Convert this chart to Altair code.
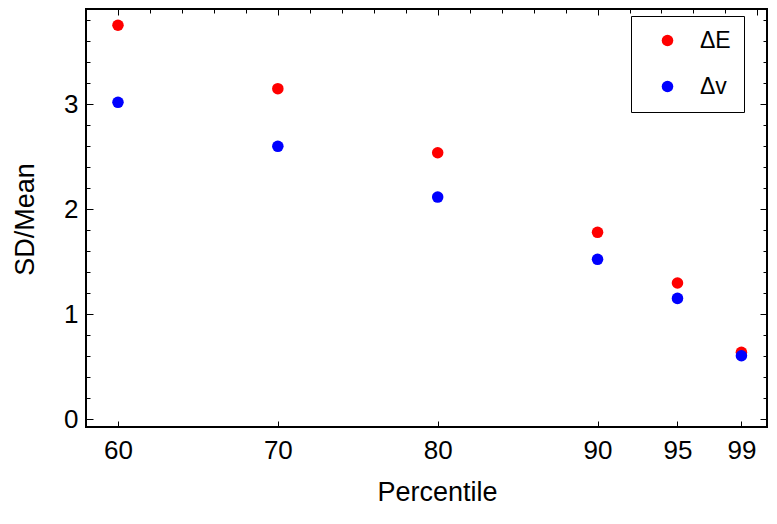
import altair as alt
import pandas as pd

# ---- data ----
percentile = [60, 70, 80, 90, 95, 99]
delta_E = [3.75, 3.146, 2.536, 1.778, 1.295, 0.635]
delta_v = [3.016, 2.597, 2.114, 1.521, 1.149, 0.603]
series_names = ["ΔE", "Δv"]
series_colors = ["#ff0000", "#0000ff"]

x_ticks = [60, 70, 80, 90, 95, 99]
x_top_major = [60, 70, 80, 90, 100]
x_top_minor = [58, 60, 62, 64, 66, 68, 70, 72, 74, 76, 78, 80, 82, 84, 86, 88,
               90, 92, 94, 96, 98, 100]
y_ticks = [0, 1, 2, 3]
y_minor = [0.0, 0.2, 0.4, 0.6, 0.8, 1.0, 1.2, 1.4, 1.6, 1.8, 2.0, 2.2, 2.4,
           2.6, 2.8, 3.0, 3.2, 3.4, 3.6, 3.8]

rows = []
for name, vals in zip(series_names, [delta_E, delta_v]):
    for p, v in zip(percentile, vals):
        rows.append({"Percentile": p, "value": v, "series": name})
df = pd.DataFrame(rows)

X_DOM = [58, 100.6]
Y_DOM = [-0.076, 3.905]
W, H = 681, 418
FONT = "Liberation Sans"

xs = alt.Scale(domain=X_DOM, nice=False, zero=False)
ys = alt.Scale(domain=Y_DOM, nice=False, zero=False)


def tick_axis(orient, values, size):
    return alt.Axis(orient=orient, values=values, offset=-size, tickSize=size,
                    labels=False, domain=False, grid=False, title=None,
                    tickColor="black", tickWidth=1)


x_bottom = alt.Axis(orient="bottom", values=x_ticks, offset=-6, tickSize=6,
                    domain=False, grid=False, labelFontSize=26, labelFont=FONT,
                    labelPadding=10, labelColor="black", labelFlush=False,
                    tickColor="black", tickWidth=1,
                    title="Percentile", titleFont=FONT, titleFontSize=27,
                    titleFontWeight="normal", titleColor="black",
                    titleBaseline="alphabetic", titleX=351, titleY=79)

y_left = alt.Axis(orient="left", values=y_ticks, offset=-7, tickSize=7,
                  domain=False, grid=False, labelFontSize=26, labelFont=FONT,
                  labelPadding=8, labelColor="black", labelFlush=False,
                  tickColor="black", tickWidth=1,
                  title="SD/Mean", titleFont=FONT, titleFontSize=27,
                  titleFontWeight="normal", titleColor="black",
                  titleBaseline="alphabetic", titleX=-60, titleY=210)

legend = alt.Legend(orient="none", legendX=545, legendY=7, title=None,
                    strokeColor="black", fillColor="white", padding=13,
                    rowPadding=22, symbolSize=133, symbolType="circle",
                    symbolStrokeWidth=0, symbolOffset=12, labelOffset=21,
                    labelFontSize=23, labelFont=FONT, labelColor="black",
                    labelExpr="datum.label + '\u00a0\u00a0\u00a0\u00a0\u00a0\u00a0'")

points = alt.Chart(df).mark_circle(size=133, opacity=1).encode(
    x=alt.X("Percentile:Q", scale=xs, axis=x_bottom),
    y=alt.Y("value:Q", scale=ys, axis=y_left),
    color=alt.Color("series:N",
                    scale=alt.Scale(domain=series_names, range=series_colors),
                    legend=legend),
)

ghost2 = alt.Chart(df).mark_circle(opacity=0).encode(
    x=alt.X("Percentile:Q", scale=xs, axis=tick_axis("top", x_top_major, 6)),
    y=alt.Y("value:Q", scale=ys, axis=tick_axis("left", y_minor, 4)),
)
ghost3 = alt.Chart(df).mark_circle(opacity=0).encode(
    x=alt.X("Percentile:Q", scale=xs, axis=tick_axis("top", x_top_minor, 4)),
    y=alt.Y("value:Q", scale=ys, axis=tick_axis("right", y_ticks, 7)),
)
ghost4 = alt.Chart(df).mark_circle(opacity=0).encode(
    x=alt.X("Percentile:Q", scale=xs, axis=None),
    y=alt.Y("value:Q", scale=ys, axis=tick_axis("right", y_minor, 4)),
)

chart = (
    alt.layer(points, ghost2, ghost3, ghost4)
    .resolve_axis(x="independent", y="independent")
    .properties(width=W, height=H,
                autosize=alt.AutoSizeParams(type="none"),
                padding={"left": 78, "top": 1, "right": 2, "bottom": 83},
                background="white")
    .configure_view(stroke="black", strokeWidth=2)
)

chart.save("out.html", embed_options={"renderer": "svg", "actions": False})
